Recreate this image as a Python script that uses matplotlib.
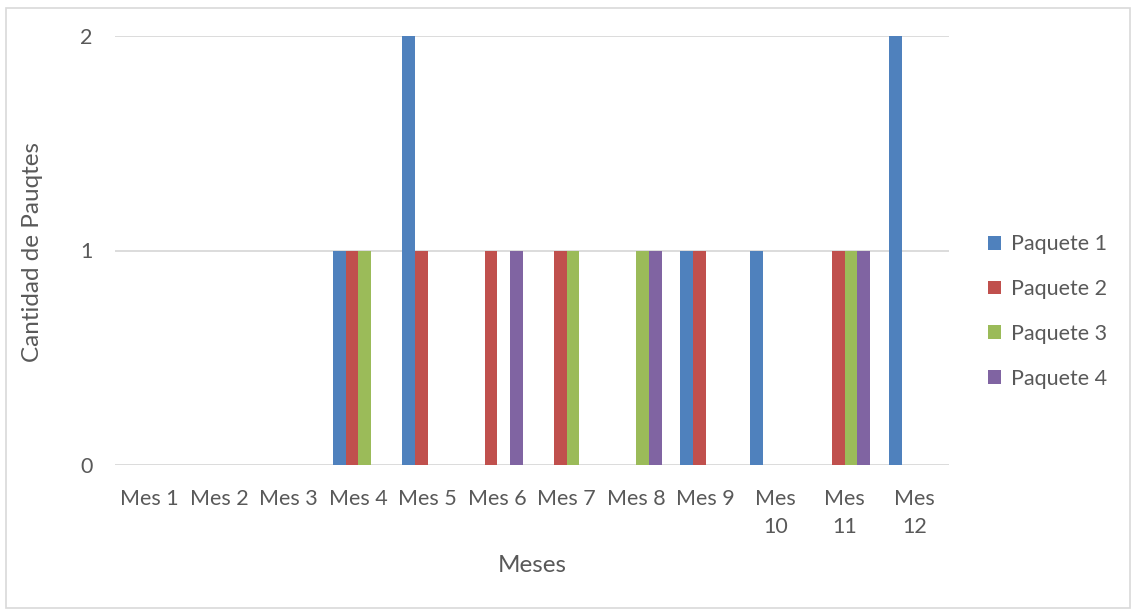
import matplotlib
matplotlib.use("Agg")
import matplotlib.pyplot as plt
from matplotlib.patches import Rectangle, Patch
import numpy as np

meses = ["Mes 1", "Mes 2", "Mes 3", "Mes 4", "Mes 5", "Mes 6", "Mes 7",
         "Mes 8", "Mes 9", "Mes\n10", "Mes\n11", "Mes\n12"]
paquete_1 = [0, 0, 0, 1, 2, 0, 0, 0, 1, 1, 0, 2]
paquete_2 = [0, 0, 0, 1, 1, 1, 1, 0, 1, 0, 1, 0]
paquete_3 = [0, 0, 0, 1, 0, 0, 1, 1, 0, 0, 1, 0]
paquete_4 = [0, 0, 0, 0, 0, 1, 0, 1, 0, 0, 1, 0]
series_names = ["Paquete 1", "Paquete 2", "Paquete 3", "Paquete 4"]
y_ticks = [0, 1, 2]

colors = ["#4F81BD", "#C0504D", "#9BBB59", "#8064A2"]
text_color = "#595959"
grid_color = "#D9D9D9"

plt.rcParams["font.family"] = ["Lato", "DejaVu Sans"]

W, H = 1133, 612
fig = plt.figure(figsize=(W / 100, H / 100), dpi=100)
ax = fig.add_axes([115 / W, (H - 465) / H, (949 - 115) / W, (465 - 36) / H])

series = [paquete_1, paquete_2, paquete_3, paquete_4]
x = np.arange(len(meses))
bar_w = 1 / (len(series) + 1.5)
for i, (vals, c, name) in enumerate(zip(series, colors, series_names)):
    ax.bar(x + (i - 1.5) * bar_w, vals, width=bar_w, color=c, label=name,
           linewidth=0, zorder=3)

ax.set_xlim(-0.5, len(meses) - 0.5)
ax.set_ylim(0, 2)
ax.set_yticks(y_ticks)
ax.set_xticks(x)
ax.set_xticklabels(meses, fontsize=15.5, color=text_color, linespacing=1.5,
                   va="top")
ax.tick_params(axis="y", labelsize=15.5, labelcolor=text_color, length=0, pad=16)
ax.tick_params(axis="x", length=0, pad=17)
for s in ax.spines.values():
    s.set_visible(False)
ax.yaxis.grid(True, color=grid_color, linewidth=1.3, zorder=0)
ax.set_axisbelow(True)

fig.text(532 / W, 1 - 565 / H, "Meses", ha="center", va="center",
         fontsize=17.5, color=text_color)
fig.text(33 / W, 1 - 252 / H, "Cantidad de Pauqtes", ha="center", va="center",
         rotation=90, fontsize=17.5, color=text_color)

handles = [Patch(facecolor=c, edgecolor="none") for c in colors]
fig.legend(handles, series_names, loc="upper left",
           bbox_to_anchor=(969 / W, 1 - 215 / H), frameon=False,
           fontsize=15.5, labelcolor=text_color, handlelength=0.6,
           handleheight=0.6, handletextpad=0.45, labelspacing=1.15)

fig.add_artist(Rectangle((6 / W, (H - 608) / H), (1130 - 6) / W, (608 - 8) / H,
                         transform=fig.transFigure, fill=False,
                         edgecolor=grid_color, linewidth=1.2))

fig.savefig("out.png", dpi=100)
